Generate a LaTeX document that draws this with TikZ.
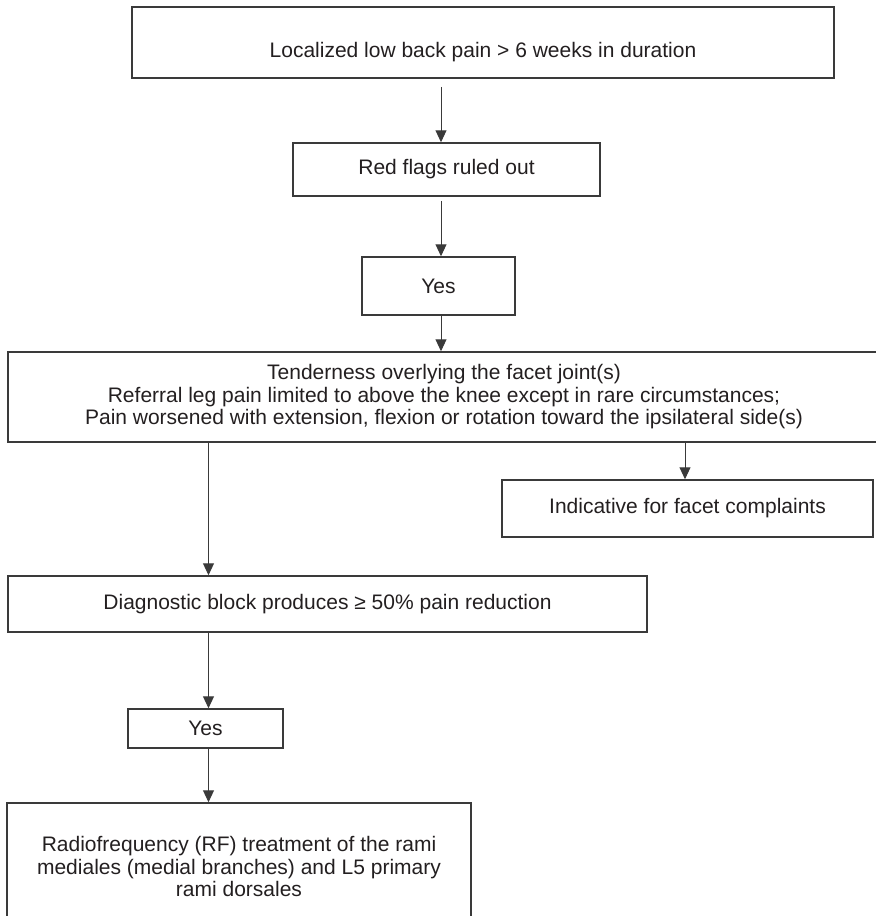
\documentclass[tikz,border=0pt]{standalone}
\usepackage{fontspec}
\setmainfont{Liberation Sans}
\usepackage{xcolor}
\usetikzlibrary{positioning}
\usetikzlibrary{arrows.meta}

\definecolor{boxline}{RGB}{58,58,58}
\definecolor{boxtext}{RGB}{35,31,32}

\begin{document}
\begin{tikzpicture}[on grid, x=0.5pt, y=-0.5pt,
    every node/.style={font=\fontsize{10.5pt}{11.25pt}\selectfont, text=boxtext},
    stepbox/.style={draw=boxline, line width=0.75pt, align=center, inner sep=0pt},
    >={Triangle[length=6pt,width=5.5pt]}]

        \useasboundingbox (0,0) rectangle (875,916);

        \node[stepbox, minimum width=351pt, minimum height=35.5pt, text height=25pt, text depth=10.5pt]  (pain) at (483,42.5) {Localized low back pain > 6 weeks in duration};
        \node[stepbox, minimum width=153.5pt, minimum height=26.5pt]  (flags) [below=63.5pt of pain, xshift=-18.25pt] {Red flags ruled out};
        \node[stepbox, minimum width=76.5pt, minimum height=29pt]  (yes1) [below=58.25pt of flags, xshift=-4pt] {Yes};

        \node[stepbox, minimum width=436pt, minimum height=45pt]  (signs) [below=55.5pt of yes1, xshift=2.75pt] {Tenderness overlying the facet joint(s)\\Referral leg pain limited to above the knee except in rare circumstances;\\Pain worsened with extension, flexion or rotation toward the ipsilateral side(s)};

        \node[stepbox, minimum width=185.5pt, minimum height=28.5pt]  (facet) [below=55.75pt of signs, xshift=121.75pt] {Indicative for facet complaints};
        \node[stepbox, minimum width=319.5pt, minimum height=28pt]  (block) [below=103.5pt of signs, xshift=-58.25pt] {Diagnostic block produces ≥ 50\% pain reduction};

        \node[stepbox, minimum width=77.5pt, minimum height=19.5pt]  (yes2) [below=62.25pt of block, xshift=-61pt] {Yes};
        \node[stepbox, minimum width=232pt, minimum height=63.5pt]  (rf) [below=69pt of yes2, xshift=16.75pt] {Radiofrequency (RF) treatment of the rami\\mediales (medial branches) and L5 primary\\rami dorsales};

        % x positions of the vertical connectors
        \coordinate (spine) at (441,0);
        \coordinate (lspine) at (208.5,0);
        \coordinate (rspine) at (685,0);

        \path [->, color=boxline, line width=0.5pt]
          (pain.south -| spine) edge [shorten <=4pt] (flags.north -| spine)
          (flags.south -| spine) edge [shorten <=2pt] (yes1.north -| spine)
          (yes1.south -| spine) edge [] (signs.north -| spine)

          (signs.south -| rspine) edge [] (facet.north -| rspine)
          (signs.south -| lspine) edge [] (block.north -| lspine)

          (block.south -| lspine) edge [] (yes2.north -| lspine)
          (yes2.south -| lspine) edge [] (rf.north -| lspine);

\end{tikzpicture}
\end{document}
